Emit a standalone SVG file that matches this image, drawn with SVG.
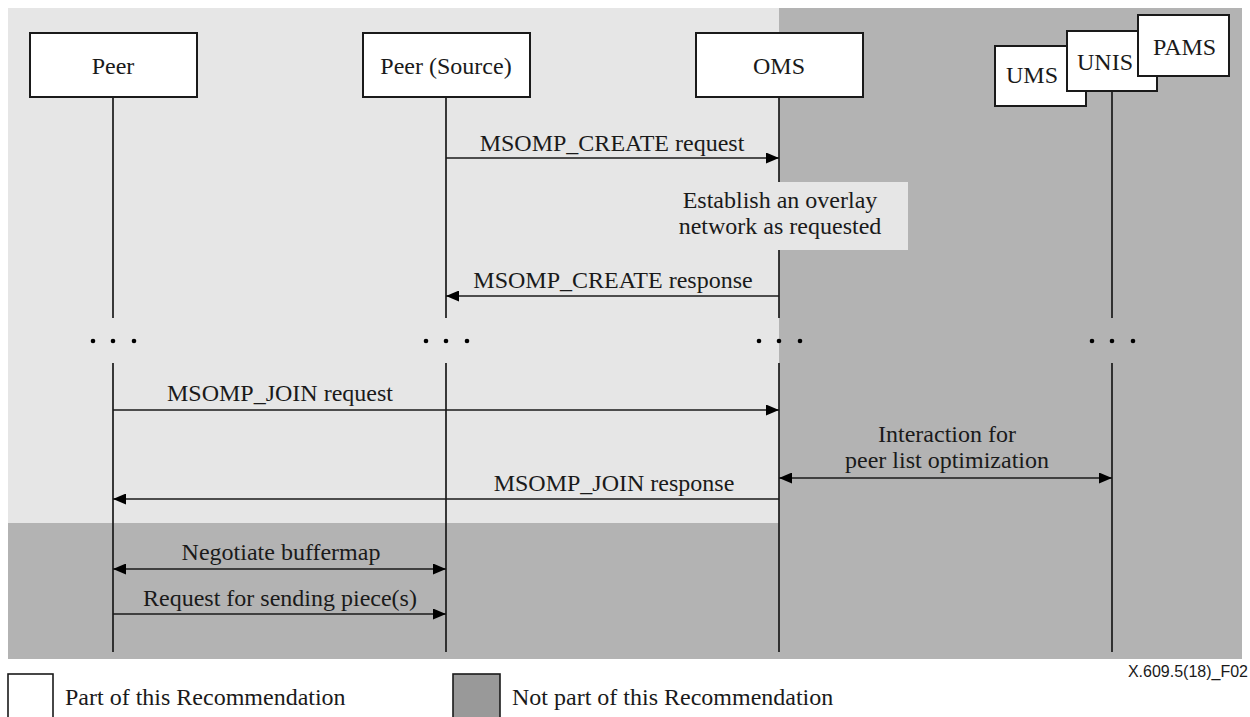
<svg xmlns="http://www.w3.org/2000/svg" width="1250" height="717" viewBox="0 0 1250 717">
<style>
text{font-family:"Liberation Serif","Times New Roman",serif;font-size:24px;fill:#1a1a1a}
.c{text-anchor:middle}
.box{fill:#fff;stroke:#1a1a1a;stroke-width:2}
.life{stroke:#1a1a1a;stroke-width:1.7;fill:none}
.msg{stroke:#1a1a1a;stroke-width:1.7;fill:none}
.dot{fill:#000}
</style>
<defs>
<marker id="ah" viewBox="0 0 13 11" refX="13" refY="5.5" markerWidth="13" markerHeight="11" markerUnits="userSpaceOnUse" orient="auto-start-reverse">
<path d="M0,0 L13,5.5 L0,11 Z" fill="#000"/>
</marker>
</defs>
<rect width="1250" height="717" fill="#fff"/>
<g id="background">
<rect x="8" y="8" width="771" height="515" fill="#e6e6e6"/>
<rect x="779" y="8" width="463" height="651" fill="#b3b3b3"/>
<rect x="8" y="523" width="771" height="136" fill="#b3b3b3"/>
</g>
<g id="lifelines">
<path class="life" d="M113,97V318M113,363V652"/>
<path class="life" d="M446,97V318M446,363V652"/>
<path class="life" d="M779,97V318M779,363V652"/>
<path class="life" d="M1112,91V318M1112,363V652"/>
</g>
<g id="note-establish">
<rect x="660" y="182" width="248" height="68" fill="#e6e6e6"/>
<text class="c" x="780" y="208">Establish an overlay</text>
<text class="c" x="780" y="234">network as requested</text>
</g>
<g id="node-peer"><rect class="box" x="30" y="33" width="167" height="64"/><text class="c" x="113" y="74">Peer</text></g>
<g id="node-peer-source"><rect class="box" x="363" y="33" width="167" height="64"/><text class="c" x="446" y="74">Peer (Source)</text></g>
<g id="node-oms"><rect class="box" x="696" y="33" width="167" height="64"/><text class="c" x="779" y="74">OMS</text></g>
<g id="node-ums"><rect class="box" x="995" y="46" width="91" height="60"/><text x="1006" y="83">UMS</text></g>
<g id="node-unis"><rect class="box" x="1067" y="31" width="90" height="60"/><text x="1077" y="70">UNIS</text></g>
<g id="node-pams"><rect class="box" x="1138" y="15" width="91" height="61"/><text x="1153" y="55">PAMS</text></g>
<g id="dots">
<circle class="dot" cx="93" cy="341" r="2.3"/><circle class="dot" cx="113" cy="341" r="2.3"/><circle class="dot" cx="134" cy="341" r="2.3"/>
<circle class="dot" cx="426" cy="341" r="2.3"/><circle class="dot" cx="446" cy="341" r="2.3"/><circle class="dot" cx="467" cy="341" r="2.3"/>
<circle class="dot" cx="759" cy="341" r="2.3"/><circle class="dot" cx="779" cy="341" r="2.3"/><circle class="dot" cx="800" cy="341" r="2.3"/>
<circle class="dot" cx="1092" cy="341" r="2.3"/><circle class="dot" cx="1112" cy="341" r="2.3"/><circle class="dot" cx="1133" cy="341" r="2.3"/>
</g>
<g id="connectors">
<line class="msg" x1="446" y1="158" x2="779" y2="158" marker-end="url(#ah)"/>
<line class="msg" x1="779" y1="296" x2="446" y2="296" marker-end="url(#ah)"/>
<line class="msg" x1="113" y1="410" x2="779" y2="410" marker-end="url(#ah)"/>
<line class="msg" x1="779" y1="478" x2="1112" y2="478" marker-start="url(#ah)" marker-end="url(#ah)"/>
<line class="msg" x1="779" y1="499" x2="113" y2="499" marker-end="url(#ah)"/>
<line class="msg" x1="113" y1="569" x2="446" y2="569" marker-start="url(#ah)" marker-end="url(#ah)"/>
<line class="msg" x1="113" y1="614" x2="446" y2="614" marker-end="url(#ah)"/>
</g>
<g id="labels">
<text class="c" x="612" y="151">MSOMP_CREATE request</text>
<text class="c" x="613" y="288">MSOMP_CREATE response</text>
<text class="c" x="280" y="401">MSOMP_JOIN request</text>
<text class="c" x="947" y="442">Interaction for</text>
<text class="c" x="947" y="468">peer list optimization</text>
<text class="c" x="614" y="491">MSOMP_JOIN response</text>
<text class="c" x="281" y="560">Negotiate buffermap</text>
<text class="c" x="280" y="606">Request for sending piece(s)</text>
</g>
<g id="legend">
<rect x="8" y="674" width="45" height="50" fill="#fff" stroke="#1a1a1a" stroke-width="1.6"/>
<text x="65" y="705">Part of this Recommendation</text>
<rect x="453" y="674" width="47" height="50" fill="#999" stroke="#1a1a1a" stroke-width="1.6"/>
<text x="512" y="705">Not part of this Recommendation</text>
<text x="1248" y="677" style="font-family:'Liberation Sans',Arial,sans-serif;font-size:16px;text-anchor:end">X.609.5(18)_F02</text>
</g>
</svg>
